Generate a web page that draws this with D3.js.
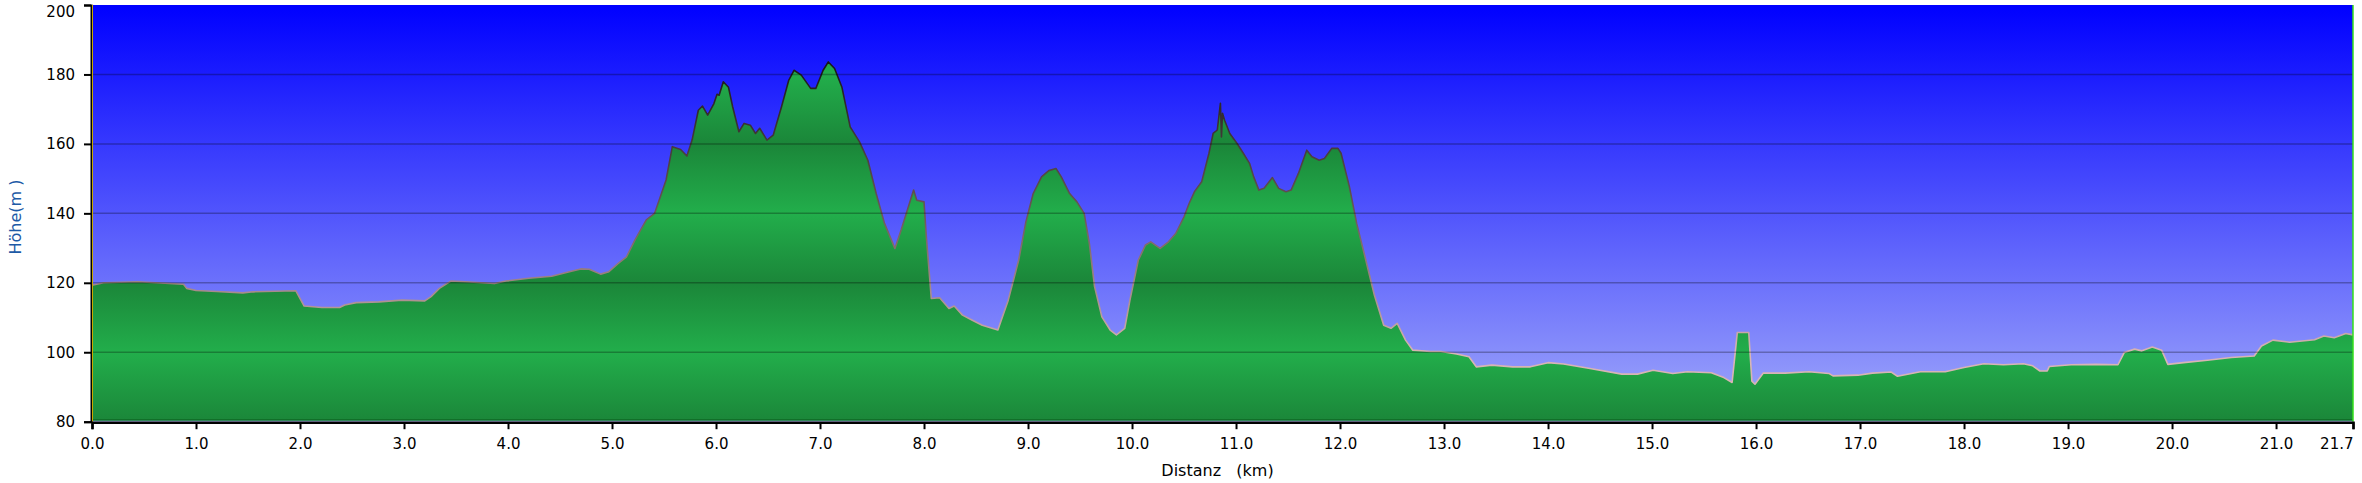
<!DOCTYPE html>
<html>
<head>
<meta charset="utf-8">
<script src="https://cdn.jsdelivr.net/npm/d3@7"></script>
<style>
  html, body { margin: 0; padding: 0; background: #fff; }
  svg { display: block; }
  text { font-family: "DejaVu Sans", Verdana, sans-serif; }
</style>
</head>
<body>
<svg id="chart" width="2362" height="483"></svg>
<script>
// ---- data ----
const distKm = [
  0.00, 0.11, 0.44, 0.88, 0.91, 1.00, 1.20, 1.45, 1.55, 1.96, 2.04, 2.21, 2.38, 2.43, 2.54, 2.76, 2.98, 3.20, 3.26,
  3.34, 3.45, 3.59, 3.87, 3.98, 4.20, 4.42, 4.59, 4.70, 4.78, 4.89, 4.97, 5.06, 5.14, 5.22, 5.33, 5.41, 5.52,
  5.58, 5.66, 5.72, 5.77, 5.83, 5.87, 5.92, 5.98, 6.01, 6.03, 6.07, 6.12, 6.16, 6.22, 6.27, 6.33, 6.38, 6.42,
  6.49, 6.55, 6.63, 6.70, 6.75, 6.82, 6.91, 6.96, 7.03, 7.08, 7.14, 7.21, 7.29, 7.38, 7.46, 7.54, 7.62, 7.72,
  7.78, 7.90, 7.93, 8.00, 8.02, 8.07, 8.15, 8.24, 8.29, 8.37, 8.46, 8.56, 8.71, 8.81, 8.91, 8.98, 9.05, 9.13,
  9.20, 9.27, 9.32, 9.40, 9.47, 9.54, 9.59, 9.64, 9.71, 9.79, 9.85, 9.93, 9.98, 10.06, 10.13, 10.18, 10.27,
  10.35, 10.42, 10.50, 10.55, 10.60, 10.67, 10.74, 10.78, 10.82, 10.85, 10.86, 10.87, 10.89, 10.94, 11.01,
  11.07, 11.13, 11.17, 11.22, 11.27, 11.35, 11.41, 11.48, 11.53, 11.60, 11.68, 11.73, 11.80, 11.85, 11.92,
  11.98, 12.01, 12.09, 12.16, 12.24, 12.33, 12.42, 12.49, 12.55, 12.63, 12.70, 12.87, 12.97, 13.12, 13.24,
  13.31, 13.46, 13.66, 13.83, 14.00, 14.15, 14.39, 14.71, 14.86, 15.01, 15.20, 15.34, 15.57, 15.69, 15.77,
  15.82, 15.93, 15.96, 15.99, 16.07, 16.28, 16.51, 16.70, 16.74, 16.98, 17.12, 17.30, 17.36, 17.58, 17.82,
  18.00, 18.19, 18.38, 18.57, 18.66, 18.73, 18.80, 18.82, 19.03, 19.27, 19.48, 19.54, 19.64, 19.71, 19.81,
  19.90, 19.96, 20.11, 20.34, 20.57, 20.79, 20.86, 20.97, 21.13, 21.37, 21.46, 21.56, 21.67, 21.74
];
const elevM = [
  119.3, 120.0, 120.3, 119.6, 118.4, 117.8, 117.5, 117.1, 117.4, 117.7, 113.3, 112.9, 112.9, 113.6, 114.3, 114.5, 115.0, 114.8, 116.0,
  118.4, 120.5, 120.3, 119.8, 120.5, 121.3, 121.9, 123.2, 124.0, 123.9, 122.5, 123.2, 125.6, 127.5, 132.3, 138.1, 140.0, 149.6,
  159.2, 158.4, 156.5, 161.1, 169.7, 170.9, 168.3, 171.6, 174.3, 174.0, 177.9, 176.3, 170.7, 163.5, 165.9, 165.4, 163.0, 164.5,
  161.1, 162.5, 170.7, 178.4, 181.2, 179.8, 176.0, 176.0, 181.2, 183.6, 181.7, 176.4, 164.9, 160.6, 155.3, 145.7, 137.1, 129.9,
  135.2, 146.7, 143.8, 143.3, 134.2, 115.5, 115.7, 112.6, 113.3, 110.7, 109.3, 107.8, 106.4, 115.0, 126.5, 137.6, 145.7, 150.5,
  152.3, 152.9, 150.5, 145.7, 143.3, 140.0, 131.3, 118.9, 110.2, 106.4, 105.0, 106.9, 115.0, 126.5, 130.9, 131.8, 129.9,
  131.8, 134.2, 139.0, 142.9, 146.2, 149.1, 157.3, 163.0, 164.0, 171.7, 162.0, 168.8, 166.8, 163.0, 160.1,
  157.3, 154.4, 150.5, 146.7, 147.2, 150.3, 147.2, 146.2, 146.7, 151.5, 158.2, 156.3, 155.3, 155.8, 158.7,
  158.7, 157.3, 147.7, 137.1, 127.5, 116.5, 107.8, 106.9, 108.3, 103.5, 100.6, 100.2, 100.2, 99.5, 98.7,
  95.8, 96.3, 95.8, 95.8, 97.0, 96.6, 95.4, 93.7, 93.7, 94.8, 93.9, 94.4, 94.1, 92.7, 91.3,
  105.7, 105.7, 91.7, 90.8, 94.0, 94.0, 94.4, 93.9, 93.2, 93.4, 94.0, 94.3, 93.1, 94.4, 94.4,
  95.6, 96.7, 96.4, 96.7, 96.1, 94.6, 94.6, 95.9, 96.4, 96.5, 96.4, 99.9, 100.9, 100.4, 101.5,
  100.6, 96.5, 97.0, 97.7, 98.5, 98.9, 101.8, 103.5, 102.9, 103.6, 104.7, 104.2, 105.4, 105.0
];
const yTicks = [80, 100, 120, 140, 160, 180, 200];
const xTickLabels = ["0.0","1.0","2.0","3.0","4.0","5.0","6.0","7.0","8.0","9.0","10.0","11.0","12.0","13.0","14.0","15.0","16.0","17.0","18.0","19.0","20.0","21.0","21.7"];
const xTickValues = [0,1,2,3,4,5,6,7,8,9,10,11,12,13,14,15,16,17,18,19,20,21,21.74];
const xTitle = "Distanz\u00a0\u00a0\u00a0(km)";
const yTitle = "Höhe(m\u00a0)";

// ---- layout ----
const L = 92, R = 2353, T = 5, B = 421.7;
const svg = d3.select("#chart");
const x = d3.scaleLinear().domain([0, 21.74]).range([L, R]);
const y = d3.scaleLinear().domain([80, 200]).range([B, T]);

const defs = svg.append("defs");
const bg = defs.append("linearGradient").attr("id", "bg")
  .attr("gradientUnits", "userSpaceOnUse").attr("x1", 0).attr("x2", 0).attr("y1", T).attr("y2", B);
bg.append("stop").attr("offset", 0).attr("stop-color", "#0000ff");
bg.append("stop").attr("offset", 1).attr("stop-color", "#a2aafa");

const gf = defs.append("linearGradient").attr("id", "gf")
  .attr("gradientUnits", "userSpaceOnUse").attr("spreadMethod", "reflect")
  .attr("x1", 0).attr("x2", 0).attr("y1", y(100)).attr("y2", y(80));
gf.append("stop").attr("offset", 0).attr("stop-color", "#22ae4b");
gf.append("stop").attr("offset", 1).attr("stop-color", "#1b8639");

const gs = defs.append("linearGradient").attr("id", "gs")
  .attr("gradientUnits", "userSpaceOnUse")
  .attr("x1", 0).attr("x2", 0).attr("y1", y(185)).attr("y2", y(100));
gs.append("stop").attr("offset", 0).attr("stop-color", "#151515");
gs.append("stop").attr("offset", 0.55).attr("stop-color", "#6e5a5a");
gs.append("stop").attr("offset", 1).attr("stop-color", "#d8b4b4");

svg.append("rect").attr("x", L).attr("y", T).attr("width", R - L).attr("height", B - T).attr("fill", "url(#bg)");

const data = distKm.map((d, i) => ({ d, e: elevM[i] }));
const area = d3.area().x(p => x(p.d)).y0(y(80) - 1).y1(p => y(p.e));
const line = d3.line().x(p => x(p.d)).y(p => y(p.e));

svg.append("path").datum(data).attr("d", area).attr("fill", "url(#gf)");
svg.append("path").datum(data).attr("d", line).attr("fill", "none")
  .attr("stroke", "url(#gs)").attr("stroke-width", 1.6).attr("stroke-linejoin", "round");

// gridlines
svg.append("g").selectAll("line").data(yTicks.filter(v => v > 80 && v < 200)).join("line")
  .attr("x1", L).attr("x2", R).attr("y1", v => y(v)).attr("y2", v => y(v))
  .attr("stroke", "#000").attr("stroke-opacity", 0.28).attr("stroke-width", 1.5);

// bottom dark green line + right border
svg.append("line").attr("x1", L).attr("x2", R).attr("y1", B - 2).attr("y2", B - 2)
  .attr("stroke", "#0f6a25").attr("stroke-width", 1);
svg.append("line").attr("x1", R).attr("x2", R).attr("y1", T).attr("y2", B)
  .attr("stroke", "#33e01a").attr("stroke-width", 1.5);

// y axis
const yAxis = d3.axisLeft(y).tickValues(yTicks).tickSize(7).tickPadding(9).tickFormat(d3.format("d"));
const gy = svg.append("g").attr("transform", `translate(${L - 1},0)`).call(yAxis);
gy.select(".domain").attr("stroke", "#000").attr("stroke-width", 2);
gy.selectAll(".tick line").attr("stroke", "#000").attr("stroke-width", 2);
gy.selectAll(".tick text").attr("font-size", 15).attr("fill", "#000")
  .attr("font-family", "DejaVu Sans, Verdana, sans-serif");
gy.selectAll(".tick text").filter(d => d === 200).attr("dy", "0.32em").attr("y", 7);
svg.append("line").attr("x1", L + 0.5).attr("x2", L + 0.5).attr("y1", T).attr("y2", B)
  .attr("stroke", "#c9a800").attr("stroke-width", 1);

// x axis
const xAxis = d3.axisBottom(x).tickValues(xTickValues).tickSize(7).tickPadding(9)
  .tickFormat((d, i) => xTickLabels[i]);
const gx = svg.append("g").attr("transform", `translate(0,${B + 0.5})`).call(xAxis);
gx.select(".domain").attr("stroke", "#000").attr("stroke-width", 2.5);
gx.selectAll(".tick line").attr("stroke", "#000").attr("stroke-width", 2);
gx.selectAll(".tick text").attr("font-size", 15).attr("fill", "#000")
  .attr("font-family", "DejaVu Sans, Verdana, sans-serif");
gx.selectAll(".tick text").filter((d, i) => i === xTickValues.length - 1)
  .attr("text-anchor", "end").attr("dx", 0);

// titles
svg.append("text").attr("x", (L + R) / 2 - 5).attr("y", 476).attr("text-anchor", "middle")
  .attr("font-size", 16).attr("fill", "#000").text(xTitle);
svg.append("text").attr("transform", `translate(21,217) rotate(-90)`).attr("text-anchor", "middle")
  .attr("font-size", 16).attr("fill", "#1d5aa6").text(yTitle);
</script>
</body>
</html>
